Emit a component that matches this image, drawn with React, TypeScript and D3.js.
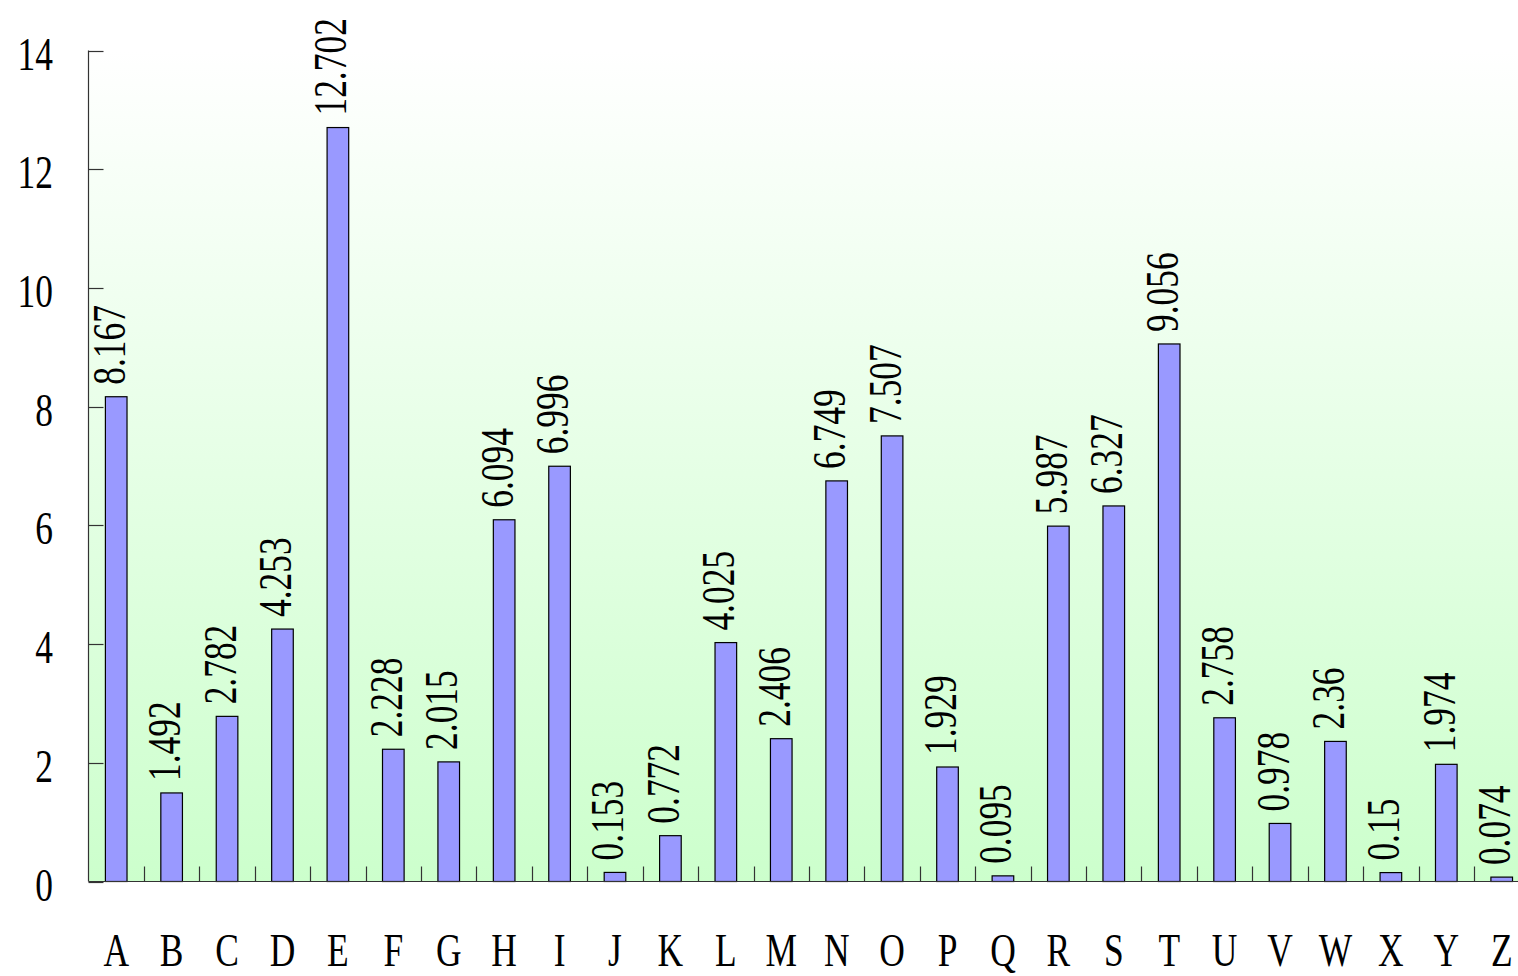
import { useEffect, useRef } from 'react';
import * as d3 from 'd3';

const letters = 'ABCDEFGHIJKLMNOPQRSTUVWXYZ'.split('');
const frequencies = [
  8.167, 1.492, 2.782, 4.253, 12.702, 2.228, 2.015, 6.094, 6.996, 0.153, 0.772, 4.025, 2.406,
  6.749, 7.507, 1.929, 0.095, 5.987, 6.327, 9.056, 2.758, 0.978, 2.36, 0.15, 1.974, 0.074,
];
const yTicks = [0, 2, 4, 6, 8, 10, 12, 14];

const FONT = "'Liberation Serif', 'Times New Roman', serif";
const SX = 0.77; // narrow the serif glyphs a bit

const App = () => {
  const svgRef = useRef<SVGSVGElement>(null);

  useEffect(() => {
    if (!svgRef.current) return;
    const svg = d3.select(svgRef.current);
    svg.selectAll('*').remove();

    const left = 88.5;
    const top = 50.5;
    const bottom = 881.5;
    const step = 55.42;
    const right = left + step * letters.length;

    const x = d3.scaleBand<string>().domain(letters).range([left, right]).padding(0);
    const y = d3.scaleLinear().domain([0, 14]).range([bottom, top]);
    const barW = x.bandwidth() * 0.39;

    // background gradient
    const grad = svg.append('defs').append('linearGradient')
      .attr('id', 'bg')
      .attr('x1', 0).attr('y1', 0).attr('x2', 0).attr('y2', 1);
    grad.append('stop').attr('offset', '0%').attr('stop-color', '#ffffff');
    grad.append('stop').attr('offset', '100%').attr('stop-color', '#ccffcc');

    svg.append('rect')
      .attr('x', left).attr('y', top)
      .attr('width', right - left).attr('height', bottom - top)
      .attr('fill', 'url(#bg)');

    // bars
    letters.forEach((l, i) => {
      const cx = (x(l) ?? 0) + x.bandwidth() / 2;
      const v = frequencies[i];
      svg.append('rect')
        .attr('x', cx - barW / 2)
        .attr('y', y(v))
        .attr('width', barW)
        .attr('height', y(0) - y(v))
        .attr('fill', '#9999ff')
        .attr('stroke', '#000')
        .attr('stroke-width', 1.2);

      // value label, rotated
      svg.append('text')
        .attr('transform', `translate(${cx + 8.5},${y(v) - 12}) rotate(-90) scale(${SX},1)`)
        .attr('font-family', FONT)
        .attr('font-size', 46)
        .attr('fill', '#000')
        .text(String(v));

      // category label
      svg.append('text')
        .attr('transform', `translate(${cx},966) scale(${SX},1)`)
        .attr('text-anchor', 'middle')
        .attr('font-family', FONT)
        .attr('font-size', 46)
        .attr('fill', '#000')
        .text(l);
    });

    // y axis
    svg.append('line')
      .attr('x1', left).attr('x2', left)
      .attr('y1', top).attr('y2', bottom)
      .attr('stroke', '#333').attr('stroke-width', 1.2);
    yTicks.forEach(t => {
      svg.append('line')
        .attr('x1', left).attr('x2', left + 15)
        .attr('y1', Math.round(y(t)) + 0.5).attr('y2', Math.round(y(t)) + 0.5)
        .attr('stroke', '#333').attr('stroke-width', 1.2);
      svg.append('text')
        .attr('transform', `translate(53,${y(t) + 19}) scale(${SX},1)`)
        .attr('text-anchor', 'end')
        .attr('font-family', FONT)
        .attr('font-size', 46)
        .attr('fill', '#000')
        .text(String(t));
    });

    // x axis
    svg.append('line')
      .attr('x1', left).attr('x2', right)
      .attr('y1', bottom).attr('y2', bottom)
      .attr('stroke', '#333').attr('stroke-width', 1.2);
    letters.slice(1).forEach(l => {
      const bx = Math.round(x(l) ?? 0) + 0.5;
      svg.append('line')
        .attr('x1', bx).attr('x2', bx)
        .attr('y1', bottom - 15).attr('y2', bottom)
        .attr('stroke', '#333').attr('stroke-width', 1.2);
    });
  }, []);

  return (
    <svg
      ref={svgRef}
      width={1518}
      height={976}
      style={{ position: 'absolute', left: 0, top: 0, background: '#fff', overflow: 'hidden' }}
    />
  );
};

export default App;
